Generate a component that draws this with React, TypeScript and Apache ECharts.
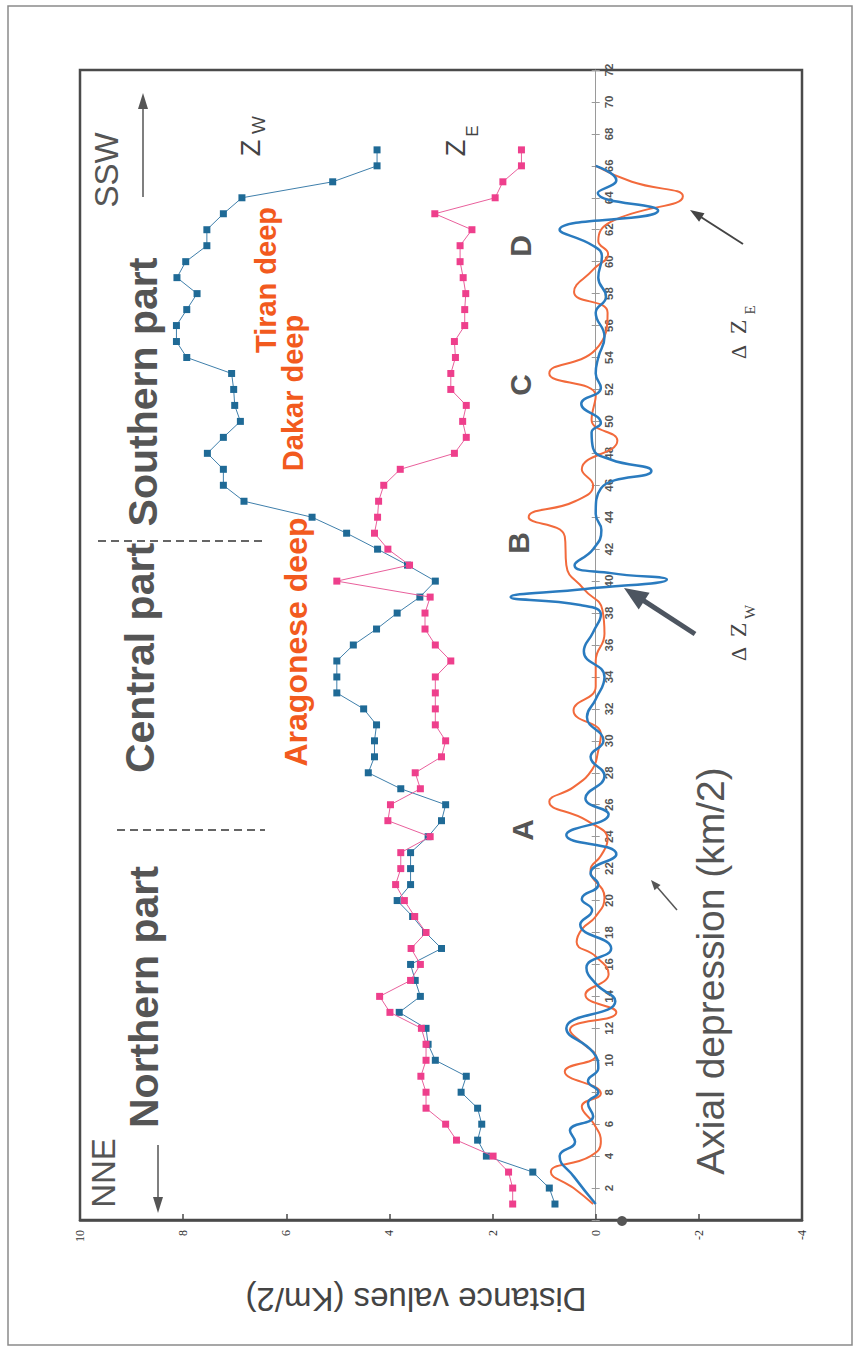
import React, { useEffect, useRef } from 'react';
import * as echarts from 'echarts';

// distance along axis (km/2)
const distance = [
  1, 2, 3, 4, 5, 6, 7, 8, 9, 10, 11, 12, 13, 14, 15, 16, 17, 18, 19, 20,
  21, 22, 23, 24, 25, 26, 27, 28, 29, 30, 31, 32, 33, 34, 35, 36, 37, 38, 39, 40,
  41, 42, 43, 44, 45, 46, 47, 48, 49, 50, 51, 52, 53, 54, 55, 56, 57, 58, 59, 60,
  61, 62, 63, 64, 65, 66, 67,
];

// Z_W : western distance values
const zW = [
  0.79, 0.9, 1.22, 2.12, 2.29, 2.21, 2.29, 2.61, 2.51, 3.11, 3.25, 3.29, 3.81, 3.4, 3.5, 3.59, 2.99, 3.3, 3.55, 3.85,
  3.59, 3.59, 3.59, 3.25, 2.99, 2.91, 3.78, 4.41, 4.29, 4.29, 4.25, 4.5, 5.02, 5.02, 5.02, 4.7, 4.25, 3.85, 3.41, 3.11,
  3.65, 4.23, 4.83, 5.5, 6.82, 7.22, 7.22, 7.53, 7.22, 6.89, 7.0, 7.02, 7.06, 7.93, 8.13, 8.13, 7.93, 7.73, 8.12, 7.95,
  7.54, 7.54, 7.22, 6.86, 5.1, 4.24, 4.24,
];

// Z_E : eastern distance values
const zE = [
  1.61, 1.61, 1.69, 1.99, 2.7, 2.91, 3.29, 3.29, 3.39, 3.29, 3.29, 3.38, 3.99, 4.19, 3.59, 3.4, 3.58, 3.29, 3.51, 3.71,
  3.88, 3.78, 3.78, 3.21, 4.03, 3.98, 3.4, 3.5, 2.99, 2.91, 3.11, 3.11, 3.11, 3.11, 2.81, 3.11, 3.31, 3.31, 3.21, 5.02,
  3.61, 4.03, 4.29, 4.23, 4.21, 4.11, 3.79, 2.74, 2.51, 2.58, 2.51, 2.81, 2.81, 2.72, 2.74, 2.54, 2.54, 2.52, 2.57, 2.63,
  2.63, 2.4, 3.12, 1.95, 1.8, 1.44, 1.44,
];

// ΔZ_W axial depression curve: [distance, value]
const dzW: [number, number][] = [
  [1.0, 0], [2.7, 0.42], [4.0, 0.7], [4.9, 0.4], [5.6, 0.5], [6.5, 0.05], [7.3, 0.15], [8.0, -0.05],
  [8.7, 0.15], [9.5, -0.05], [10.5, 0.05], [12.0, 0.57], [13.7, -0.38], [14.8, 0.0], [15.8, 0.18],
  [17.0, -0.3], [18.5, 0.3], [19.4, 0.07], [20.1, 0.27], [21.0, -0.05], [21.7, 0.1], [22.9, -0.4],
  [24.1, 0.57], [25.4, -0.25], [26.4, 0.2], [27.8, -0.17], [29.0, 0.1], [30.0, -0.15], [31.5, 0.17],
  [32.6, 0.0], [34.0, -0.17], [35.6, 0.23], [36.8, 0.05], [37.9, -0.1], [38.5, 0.3], [39.0, 1.65],
  [39.5, 0.2], [40.1, -1.38], [40.5, -0.3], [41.0, 0.41], [42.0, 0.05], [43.2, -0.11], [44.2, 0.0],
  [45.8, -0.1], [46.9, -1.08], [47.6, -0.3], [48.3, 0.05], [49.3, 0.08], [49.9, -0.1], [51.1, 0.28],
  [52.1, -0.1], [53.0, 0.0], [54.0, -0.05], [55.3, -0.17], [56.8, 0.0], [57.8, -0.2], [59.0, -0.05],
  [60.3, -0.12], [61.0, 0.05], [62.0, 0.7], [63.2, -1.21], [64.3, -0.04], [65.1, -0.4], [66.0, 0],
];

// ΔZ_E axial depression curve: [distance, value]
const dzE: [number, number][] = [
  [1.0, 0.05], [2.0, 0.43], [3.0, 0.87], [4.0, 0.1], [4.9, -0.1], [6.0, 0.03], [7.1, 0.27], [7.9, -0.1],
  [9.3, 0.6], [10.3, 0.0], [11.0, 0.23], [11.9, 0.5], [13.0, -0.4], [14.1, 0.2], [15.4, -0.25],
  [16.5, 0.0], [17.4, 0.37], [18.2, 0.27], [19.0, 0.0], [20.2, -0.17], [21.9, 0.1], [22.8, -0.1],
  [23.8, -0.23], [25.0, 0.17], [26.2, 0.9], [27.1, 0.43], [28.2, 0.07], [29.4, -0.05], [30.4, -0.1],
  [31.9, 0.43], [33.4, 0.0], [35.0, 0.0], [36.7, -0.17], [38.2, -0.13], [39.5, 0.23], [41.0, 0.57],
  [42.8, 0.6], [44.0, 1.3], [45.0, 0.4], [46.0, 0.05], [47.0, 0.27], [48.8, -0.42], [50.1, 0.08],
  [51.6, 0.0], [53.0, 0.9], [54.5, 0.0], [56.8, -0.23], [58.1, 0.42], [59.5, 0.05], [60.5, -0.24],
  [61.3, -0.05], [62.5, -0.3], [64.1, -1.69], [65.0, -0.7], [66.0, 0.0],
];

const GRAY = '#555555';
const ORANGE = '#f25a1e';
const SANS = 'Liberation Sans, Arial, sans-serif';
const SERIF = 'Liberation Serif, Times New Roman, serif';

function rtext(x: number, y: number, text: string, size: number, opts: any = {}) {
  return {
    type: 'text',
    x,
    y,
    rotation: opts.rotation ?? Math.PI / 2,
    z: 20,
    style: {
      text,
      fontSize: size,
      fontFamily: opts.family ?? SANS,
      fontWeight: opts.weight ?? 'normal',
      fill: opts.color ?? GRAY,
      align: 'center',
      verticalAlign: 'middle',
      textAlign: 'center',
      textVerticalAlign: 'middle',
    },
  };
}

function arrow(x1: number, y1: number, x2: number, y2: number, w: number, hl: number, hw: number, color = GRAY) {
  const dx = x2 - x1;
  const dy = y2 - y1;
  const L = Math.hypot(dx, dy);
  const ux = dx / L;
  const uy = dy / L;
  const bx = x2 - ux * hl;
  const by = y2 - uy * hl;
  const px = -uy;
  const py = ux;
  return [
    { type: 'line', z: 20, shape: { x1, y1, x2: bx + ux * 2, y2: by + uy * 2 }, style: { stroke: color, lineWidth: w } },
    {
      type: 'polygon',
      z: 20,
      shape: { points: [[x2, y2], [bx + (px * hw) / 2, by + (py * hw) / 2], [bx - (px * hw) / 2, by - (py * hw) / 2]] },
      style: { fill: color },
    },
  ];
}

const GRID_LEFT = 80;
const GRID_RIGHT = 57;
const W = 859;
const X_MIN = -4;
const X_MAX = 10;

export default function App() {
  const ref = useRef<HTMLDivElement>(null);

  useEffect(() => {
    if (!ref.current) return;
    const chart = echarts.init(ref.current, undefined, { renderer: 'svg' });

    const graphic: any[] = [
      { type: 'rect', z: 0, shape: { x: 8, y: 6, width: 844, height: 1339 }, style: { fill: 'none', stroke: '#8a8a8a', lineWidth: 1.5 } },
      rtext(103, 1173, 'NNE', 33),
      rtext(106, 170, 'SSW', 33),
      ...arrow(158, 1145, 158, 1213, 1.5, 16, 10),
      ...arrow(143, 197, 143, 93, 1.5, 16, 10),
      rtext(144, 997, 'Northern part', 41, { weight: 'bold' }),
      rtext(140, 658, 'Central part', 41, { weight: 'bold' }),
      rtext(143, 392, 'Southern part', 41, { weight: 'bold' }),
      { type: 'line', z: 20, shape: { x1: 98, y1: 541, x2: 262, y2: 541 }, style: { stroke: '#333', lineWidth: 1.5, lineDash: [8, 5] } },
      { type: 'line', z: 20, shape: { x1: 117, y1: 830, x2: 265, y2: 830 }, style: { stroke: '#333', lineWidth: 1.5, lineDash: [8, 5] } },
      rtext(251, 148, 'Z', 27, { color: '#444' }),
      rtext(258, 125, 'W', 19, { color: '#444' }),
      rtext(456, 148, 'Z', 27, { color: '#444' }),
      rtext(472, 131, 'E', 17, { color: '#444' }),
      rtext(266, 280, 'Tiran deep', 29, { weight: 'bold', color: ORANGE }),
      rtext(293, 393, 'Dakar deep', 29, { weight: 'bold', color: ORANGE }),
      rtext(296, 642, 'Aragonese deep', 32, { weight: 'bold', color: ORANGE }),
      rtext(522, 830, 'A', 30, { weight: 'bold' }),
      rtext(518, 543, 'B', 30, { weight: 'bold' }),
      rtext(520, 385, 'C', 30, { weight: 'bold' }),
      rtext(520, 246, 'D', 30, { weight: 'bold' }),
      rtext(710, 971, 'Axial depression (km/2)', 39),
      rtext(738, 654, 'Δ', 22, { family: SERIF, color: '#444' }),
      rtext(738, 630, 'Z', 24, { family: SERIF, color: '#444' }),
      rtext(750, 612, 'W', 15, { family: SERIF, color: '#444' }),
      rtext(738, 352, 'Δ', 22, { family: SERIF, color: '#444' }),
      rtext(738, 327, 'Z', 24, { family: SERIF, color: '#444' }),
      rtext(750, 310, 'E', 15, { family: SERIF, color: '#444' }),
      ...arrow(695, 634, 624, 588, 5, 24, 20, '#4d5560'),
      ...arrow(743, 244, 690, 210, 2, 14, 10, '#444'),
      ...arrow(677, 910, 651, 880, 1.5, 10, 8, '#555'),
      { type: 'circle', z: 20, shape: { cx: 622, cy: 1221, r: 5 }, style: { fill: '#555' } },
      rtext(416, 1299, 'Distance values (Km/2)', 33, { rotation: Math.PI, color: '#444' }),
    ];

    // pixel position of value 0 on the inverse value axis; the distance axis is drawn there
    const plotLeft = GRID_LEFT;
    const plotRight = W - GRID_RIGHT;
    const zeroX = plotLeft + ((X_MAX - 0) / (X_MAX - X_MIN)) * (plotRight - plotLeft);

    const distAxisBase = {
      type: 'value',
      min: 0,
      max: 72,
      interval: 2,
      splitLine: { show: false },
    };

    const option: any = {
      animation: false,
      backgroundColor: '#ffffff',
      grid: {
        left: GRID_LEFT,
        right: GRID_RIGHT,
        top: 70,
        bottom: 135,
        show: true,
        borderColor: '#4a4a4a',
        borderWidth: 2.5,
        backgroundColor: 'transparent',
      },
      xAxis: {
        type: 'value',
        min: X_MIN,
        max: X_MAX,
        interval: 2,
        inverse: true,
        position: 'bottom',
        axisLine: { onZero: false, lineStyle: { color: '#4a4a4a', width: 2.5 } },
        axisTick: { inside: true, length: 6, lineStyle: { color: '#4a4a4a', width: 1.5 } },
        axisLabel: { rotate: 90, margin: 10, fontSize: 12, fontFamily: SERIF, color: '#333' },
        splitLine: { show: false },
      },
      yAxis: [
        {
          ...distAxisBase,
          position: 'right',
          offset: -(plotRight - zeroX),
          axisLine: { show: true, onZero: false, lineStyle: { color: '#9a9a9a', width: 1 } },
          axisTick: { length: 4, lineStyle: { color: '#9a9a9a' } },
          axisLabel: {
            rotate: 90,
            margin: 7,
            fontSize: 11.5,
            fontWeight: 'bold',
            fontFamily: SANS,
            color: '#555',
            formatter: (v: number) => (v === 0 ? '' : String(v)),
          },
        },
        {
          ...distAxisBase,
          position: 'left',
          offset: -(zeroX - plotLeft),
          axisLine: { show: false, onZero: false },
          axisTick: { length: 4, lineStyle: { color: '#9a9a9a' } },
          axisLabel: { show: false },
        },
      ],
      series: [
        {
          type: 'line',
          name: 'ΔZ_E',
          yAxisIndex: 0,
          data: dzE.map(([d, v]) => [v, d]),
          smooth: 0.5,
          showSymbol: false,
          lineStyle: { color: '#f26a3c', width: 2 },
          z: 2,
        },
        {
          type: 'line',
          name: 'ΔZ_W',
          yAxisIndex: 0,
          data: dzW.map(([d, v]) => [v, d]),
          smooth: 0.5,
          showSymbol: false,
          lineStyle: { color: '#2a7bbf', width: 2.5 },
          z: 3,
        },
        {
          type: 'line',
          name: 'Z_W',
          yAxisIndex: 0,
          data: zW.map((v, i) => [v, distance[i]]),
          symbol: 'rect',
          symbolSize: 7,
          itemStyle: { color: '#1f6a96' },
          lineStyle: { color: '#3f7fab', width: 1 },
          z: 4,
        },
        {
          type: 'line',
          name: 'Z_E',
          yAxisIndex: 0,
          data: zE.map((v, i) => [v, distance[i]]),
          symbol: 'rect',
          symbolSize: 7,
          itemStyle: { color: '#ee3f8c' },
          lineStyle: { color: '#e9609c', width: 1 },
          z: 5,
        },
      ],
      graphic,
    };

    chart.setOption(option);
    return () => chart.dispose();
  }, []);

  return (
    <div
      ref={ref}
      style={{ position: 'fixed', left: 0, top: 0, width: W, height: 1355, background: '#fff' }}
    />
  );
}
